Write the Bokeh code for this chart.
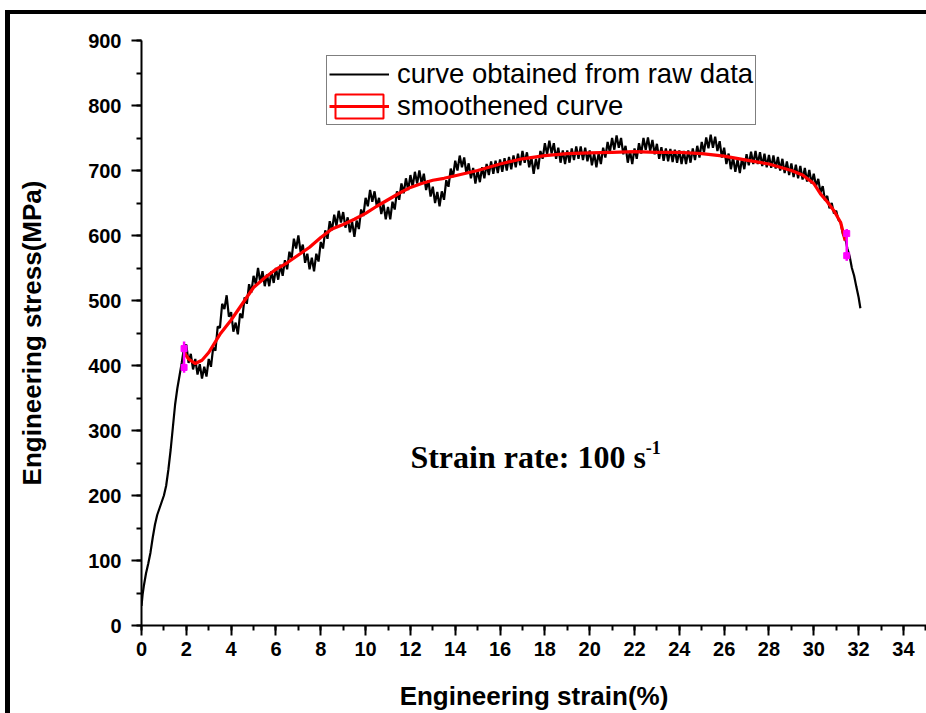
from bokeh.plotting import figure
from bokeh.models import Legend, LegendItem, Label, SingleIntervalTicker, Range1d
from bokeh.embed import file_html
from bokeh.resources import INLINE

# ---------------- data ----------------
raw_strain = [0.0, 0.05, 0.1, 0.2, 0.3, 0.4, 0.5, 0.6, 0.7, 0.8, 0.9, 1.0, 1.1, 1.2, 1.3,
              1.4, 1.5, 1.6, 1.7, 1.8, 1.9,
              2.0, 2.1, 2.2, 2.3, 2.4, 2.5, 2.6, 2.7, 2.8, 2.9,
              3.0, 3.1, 3.2, 3.3, 3.4, 3.5, 3.6, 3.7, 3.8, 3.9,
              4.0, 4.1, 4.2, 4.3, 4.4, 4.5, 4.6, 4.7, 4.8, 4.9,
              5.0, 5.1, 5.2, 5.3, 5.4, 5.5, 5.6, 5.7, 5.8, 5.9,
              6.0, 6.1, 6.2, 6.3, 6.4, 6.5, 6.6, 6.7, 6.8, 6.9,
              7.0, 7.1, 7.2, 7.3, 7.4, 7.5, 7.6, 7.7, 7.8, 7.9,
              8.0, 8.1, 8.2, 8.3, 8.4, 8.5, 8.6, 8.7, 8.8, 8.9,
              9.0, 9.1, 9.2, 9.3, 9.4, 9.5, 9.6, 9.7, 9.8, 9.9,
              10.0, 10.1, 10.2, 10.3, 10.4, 10.5, 10.6, 10.7, 10.8, 10.9,
              11.0, 11.1, 11.2, 11.3, 11.4, 11.5, 11.6, 11.7, 11.8, 11.9,
              12.0, 12.1, 12.2, 12.3, 12.4, 12.5, 12.6, 12.7, 12.8, 12.9,
              13.0, 13.1, 13.2, 13.3, 13.4, 13.5, 13.6, 13.7, 13.8, 13.9,
              14.0, 14.1, 14.2, 14.3, 14.4, 14.5, 14.6, 14.7, 14.8, 14.9,
              15.0, 15.1, 15.2, 15.3, 15.4, 15.5, 15.6, 15.7, 15.8, 15.9,
              16.0, 16.1, 16.2, 16.3, 16.4, 16.5, 16.6, 16.7, 16.8, 16.9,
              17.0, 17.1, 17.2, 17.3, 17.4, 17.5, 17.6, 17.7, 17.8, 17.9,
              18.0, 18.1, 18.2, 18.3, 18.4, 18.5, 18.6, 18.7, 18.8, 18.9,
              19.0, 19.1, 19.2, 19.3, 19.4, 19.5, 19.6, 19.7, 19.8, 19.9,
              20.0, 20.1, 20.2, 20.3, 20.4, 20.5, 20.6, 20.7, 20.8, 20.9,
              21.0, 21.1, 21.2, 21.3, 21.4, 21.5, 21.6, 21.7, 21.8, 21.9,
              22.0, 22.1, 22.2, 22.3, 22.4, 22.5, 22.6, 22.7, 22.8, 22.9,
              23.0, 23.1, 23.2, 23.3, 23.4, 23.5, 23.6, 23.7, 23.8, 23.9,
              24.0, 24.1, 24.2, 24.3, 24.4, 24.5, 24.6, 24.7, 24.8, 24.9,
              25.0, 25.1, 25.2, 25.3, 25.4, 25.5, 25.6, 25.7, 25.8, 25.9,
              26.0, 26.1, 26.2, 26.3, 26.4, 26.5, 26.6, 26.7, 26.8, 26.9,
              27.0, 27.1, 27.2, 27.3, 27.4, 27.5, 27.6, 27.7, 27.8, 27.9,
              28.0, 28.1, 28.2, 28.3, 28.4, 28.5, 28.6, 28.7, 28.8, 28.9,
              29.0, 29.1, 29.2, 29.3, 29.4, 29.5, 29.6, 29.7, 29.8, 29.9,
              30.0, 30.1, 30.2, 30.3, 30.4, 30.5, 30.6, 30.7, 30.8, 30.9,
              31.0, 31.1, 31.2, 31.3, 31.4, 31.5, 31.6, 31.7, 31.8, 31.9,
              32.0, 32.08]
raw_stress = [30, 48, 60, 80, 95, 112, 135, 155, 170, 180, 190, 200, 215, 240, 270,
              305, 340, 365, 385, 405, 428,
              432, 404, 418, 394, 410, 386, 402, 380, 398, 383,
              410, 398, 428, 423, 460, 458, 495, 487, 508, 475,
              482, 452, 466, 448, 480, 473, 505, 495, 525, 512,
              538, 525, 550, 528, 545, 522, 540, 522, 545, 527,
              550, 532, 555, 538, 562, 548, 575, 565, 595, 580,
              600, 575, 586, 558, 572, 548, 566, 545, 572, 560,
              590, 580, 608, 595, 622, 608, 632, 615, 638, 620,
              636, 612, 628, 605, 621, 598, 623, 610, 640, 630,
              658, 645, 670, 652, 668, 645, 658, 633, 648, 625,
              644, 625, 652, 640, 668, 655, 680, 665, 688, 670,
              693, 675, 698, 680, 700, 680, 695, 670, 685, 660,
              675, 650, 667, 645, 668, 655, 685, 675, 703, 690,
              715, 700, 723, 705, 720, 695, 711, 688, 704, 680,
              700, 682, 705, 688, 710, 693, 714, 695, 715, 696,
              717, 698, 719, 700, 721, 702, 723, 705, 726, 708,
              730, 712, 728, 705, 720, 695, 718, 702, 730, 718,
              742, 725, 746, 726, 742, 718, 735, 712, 731, 710,
              731, 712, 734, 716, 737, 718, 737, 716, 735, 714,
              731, 708, 726, 705, 727, 710, 735, 720, 744, 728,
              750, 732, 754, 735, 750, 725, 738, 712, 730, 710,
              734, 718, 742, 726, 750, 732, 751, 730, 747, 725,
              741, 718, 736, 715, 734, 714, 733, 713, 732, 712,
              731, 710, 730, 710, 731, 712, 734, 716, 738, 720,
              744, 728, 751, 734, 755, 735, 752, 730, 745, 720,
              735, 710, 726, 702, 720, 698, 717, 696, 719, 702,
              725, 708, 729, 710, 730, 710, 728, 707, 726, 705,
              724, 704, 723, 703, 721, 700, 718, 696, 714, 693,
              711, 690, 709, 688, 707, 686, 704, 683, 701, 680,
              695, 676, 687, 666, 676, 654, 661, 642, 650, 634,
              638, 624, 620, 602, 596, 580, 568, 550, 538, 521,
              505, 488]

smooth_strain = [1.9, 2.1, 2.4, 2.7, 3.0, 3.5, 4.0, 4.5, 5.0, 5.5, 6.0, 6.5, 7.0, 7.5,
                 8.0, 8.5, 9.0, 9.5, 10.0, 10.5, 11.0, 11.5, 12.0, 12.5, 13.0, 13.5,
                 14.0, 15.0, 16.0, 17.0, 18.0, 19.0, 20.0, 21.0, 22.0, 23.0, 24.0,
                 25.0, 26.0, 27.0, 28.0, 28.5, 29.0, 29.5, 30.0, 30.3, 30.6, 30.9,
                 31.2, 31.4]
smooth_stress = [420, 410, 403, 408, 420, 448, 470, 495, 520, 535, 548, 558, 570, 582,
                 597, 610, 617, 625, 634, 645, 655, 665, 674, 680, 685, 688,
                 692, 700, 710, 718, 723, 726, 727, 728, 729, 728, 728,
                 726, 722, 716, 710, 705, 700, 693, 680, 664, 652, 638,
                 620, 592]

# range markers (magenta) at both ends of the smoothed part
marker_strain = [1.9, 31.47]
marker_low = [389, 561]
marker_high = [437, 610]
marker_dot_strain = [1.9, 1.9, 31.47, 31.47]
marker_dot_stress = [426, 397, 603, 569]

x_ticks_interval = 2
y_ticks_interval = 100

# ---------------- figure ----------------
p = figure(width=916, height=699, output_backend="svg", toolbar_location=None,
           x_range=Range1d(0, 35.03), y_range=Range1d(0, 900),
           min_border_left=131, min_border_right=0, min_border_top=26,
           min_border_bottom=88)
p.margin = (14, 0, 0, 10)
p.styles = {"box-shadow": "-5px -4px 0 0 #000, -5px 0 0 0 #000, 0 -4px 0 0 #000"}
p.background_fill_color = "white"
p.border_fill_color = "white"
p.outline_line_color = None
p.grid.visible = False

raw_r = p.line(raw_strain, raw_stress, line_color="black", line_width=2.2)
# legend-only box glyph (kept outside the visible ranges)
box_r = p.quad(left=[-10], right=[-9], top=[-10], bottom=[-20], fill_color=None,
               line_color="red", line_width=2)
smooth_r = p.line(smooth_strain, smooth_stress, line_color="#ff0000", line_width=3.2)
p.segment(x0=marker_strain, y0=marker_low, x1=marker_strain, y1=marker_high,
          line_color="#ff00ff", line_width=2.5)
p.scatter(marker_dot_strain, marker_dot_stress, marker="square", size=6,
          fill_color="#ff00ff", line_color="#ff00ff")

for ax, interval in ((p.xaxis, x_ticks_interval), (p.yaxis, y_ticks_interval)):
    ax.ticker = SingleIntervalTicker(interval=interval, num_minor_ticks=2)
    ax.axis_line_width = 2
    ax.axis_line_color = "black"
    ax.major_tick_in = 0
    ax.major_tick_out = 10
    ax.minor_tick_in = 0
    ax.minor_tick_out = 5
    ax.major_tick_line_width = 2
    ax.minor_tick_line_width = 2
    ax.major_tick_line_color = "black"
    ax.minor_tick_line_color = "black"
    ax.major_label_text_font = "Liberation Sans"
    ax.major_label_text_font_style = "bold"
    ax.major_label_text_font_size = "20px"
    ax.major_label_text_color = "black"
    ax.axis_label_text_font = "Liberation Sans"
    ax.axis_label_text_font_style = "bold"
    ax.axis_label_text_font_size = "26px"
    ax.axis_label_text_color = "black"

p.xaxis.axis_label = "Engineering strain(%)"
p.yaxis.axis_label = "Engineering stress(MPa)"
p.xaxis.major_label_standoff = 6
p.yaxis.major_label_standoff = 10
p.xaxis.axis_label_standoff = 22
p.yaxis.axis_label_standoff = 38

legend = Legend(items=[
    LegendItem(label="curve obtained from raw data", renderers=[raw_r]),
    LegendItem(label="smoothened curve", renderers=[box_r, smooth_r]),
], location=(185, 500))
legend.border_line_color = "black"
legend.border_line_width = 1.5
legend.background_fill_color = "white"
legend.background_fill_alpha = 1
legend.padding = 2
legend.spacing = 0
legend.margin = 0
legend.glyph_width = 60
legend.glyph_height = 30
legend.label_height = 30
legend.label_standoff = 8
legend.label_text_font = "Liberation Sans"
legend.label_text_font_size = "27.5px"
legend.label_text_color = "black"
p.add_layout(legend)

p.add_layout(Label(x=12.0, y=260.0, text="Strain rate: 100 s",
                   text_font="Liberation Serif", text_font_style="bold",
                   text_font_size="32px", text_color="black",
                   text_baseline="alphabetic"))
p.add_layout(Label(x=22.5, y=274.0, text="-1",
                   text_font="Liberation Serif", text_font_style="bold",
                   text_font_size="18px", text_color="black",
                   text_baseline="alphabetic"))

open("out.html", "w").write(file_html(p, INLINE))
